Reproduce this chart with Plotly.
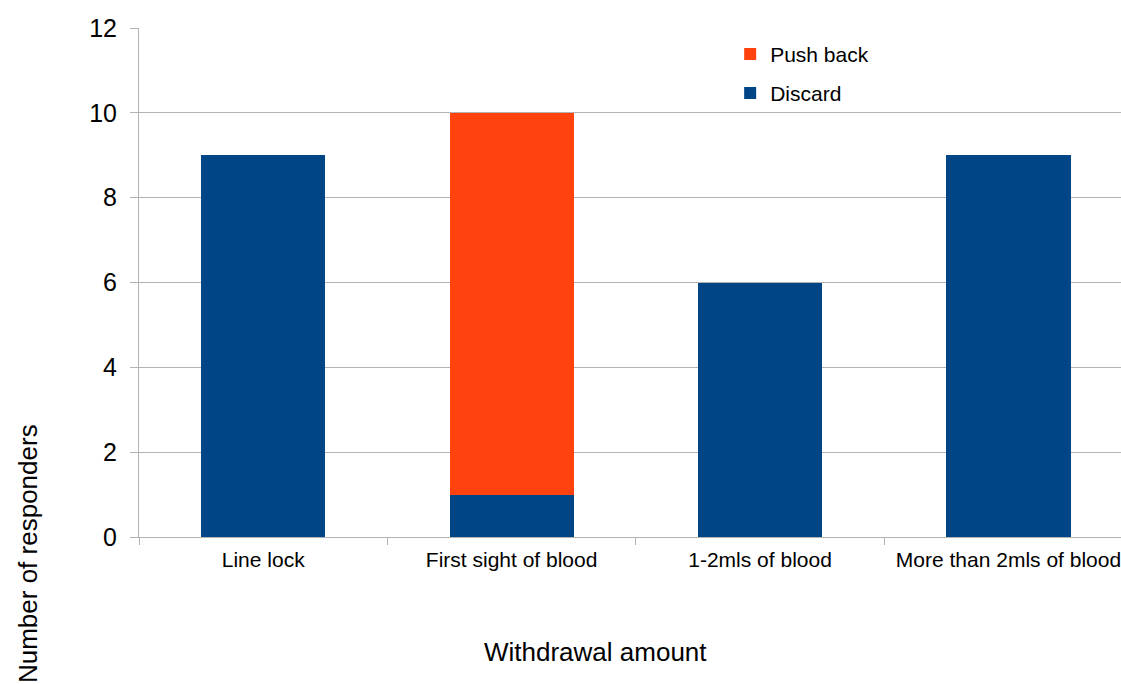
import plotly.graph_objects as go

categories = ["Line lock", "First sight of blood", "1-2mls of blood", "More than 2mls of blood"]
discard = [9, 1, 6, 9]
push_back = [0, 9, 0, 0]
y_ticks = [0, 2, 4, 6, 8, 10, 12]

FONT = "Liberation Sans, Arial, sans-serif"
GRID = "#b3b3b3"

fig = go.Figure()
fig.add_trace(go.Bar(x=categories, y=discard, name="Discard",
                     marker=dict(color="#004586", line=dict(width=0)),
                     legend="legend2"))
fig.add_trace(go.Bar(x=categories, y=push_back, name="Push back",
                     marker=dict(color="#ff420e", line=dict(width=0)),
                     legend="legend"))

fig.update_layout(
    width=1121, height=684,
    margin=dict(l=138.6, r=0, t=27.5, b=147),
    paper_bgcolor="white", plot_bgcolor="white",
    barmode="stack", bargap=0.5,
    font=dict(family=FONT, color="#000000"),
    showlegend=True,
    legend=dict(x=0.602, y=0.948, xanchor="left", yanchor="middle",
                bgcolor="rgba(0,0,0,0)", font=dict(size=21, family=FONT)),
    legend2=dict(x=0.602, y=0.8714, xanchor="left", yanchor="middle",
                 bgcolor="rgba(0,0,0,0)", font=dict(size=21, family=FONT)),
    xaxis=dict(
        type="category", range=[-0.5, 3.453],
        showline=True, linecolor=GRID, linewidth=1,
        ticks="outside", tickson="boundaries", ticklen=7, tickcolor=GRID,
        tickfont=dict(size=21, family=FONT), showgrid=False,
        ticklabelstandoff=4,
    ),
    yaxis=dict(
        range=[0, 12], tickvals=y_ticks,
        showline=True, linecolor=GRID, linewidth=1,
        ticks="outside", ticklen=8, tickcolor=GRID,
        showgrid=True, gridcolor=GRID, gridwidth=1, zeroline=False,
        tickfont=dict(size=25, family=FONT),
        ticklabelstandoff=8,
    ),
    annotations=[
        dict(text="Withdrawal amount", xref="paper", yref="paper",
             x=0.465, y=-0.2257, xanchor="center", yanchor="middle",
             showarrow=False, font=dict(size=26, family=FONT)),
        dict(text="Number of responders", xref="paper", yref="paper",
             x=-0.113, y=-0.0334, xanchor="center", yanchor="middle",
             textangle=-90, showarrow=False, font=dict(size=26, family=FONT)),
    ],
)

fig.write_html("out.html")
